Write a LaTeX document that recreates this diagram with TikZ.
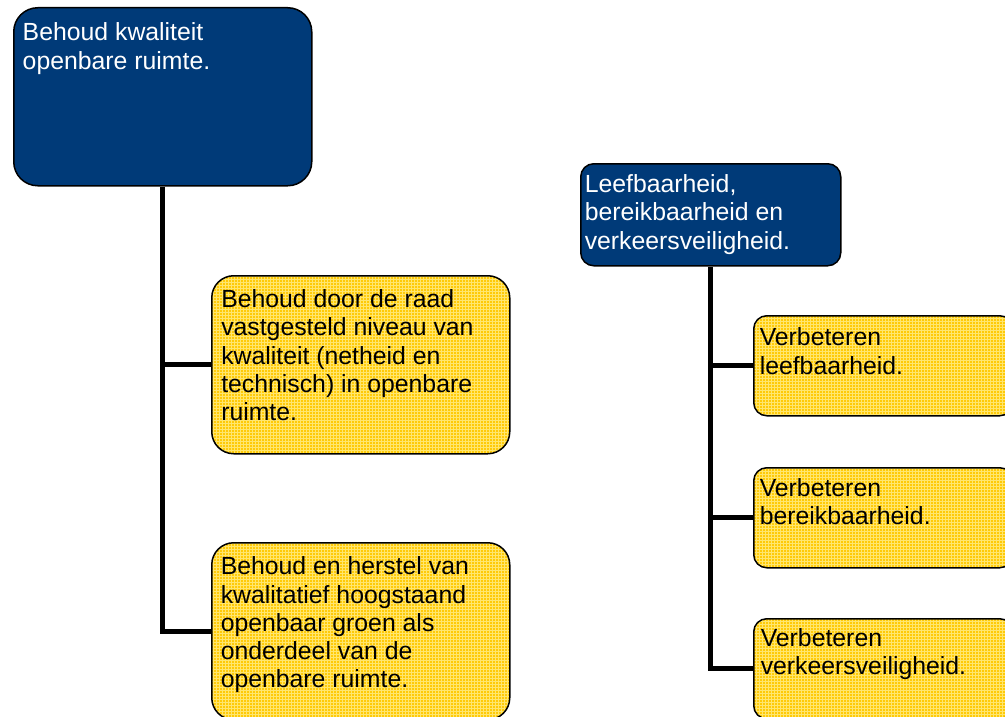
\documentclass[tikz,border=0pt]{standalone}
\usepackage{fontspec}
\setmainfont{Liberation Sans}
\usetikzlibrary{patterns}
\definecolor{navy}{RGB}{0,58,120}
\definecolor{gold}{RGB}{255,202,8}
\definecolor{goldlight}{RGB}{255,230,110}
\newcommand\bxc[5]{\hspace*{#1pt}\parbox[t][#2pt][t]{#3pt}{\vspace*{#4pt}\rule{0pt}{18.5pt}#5}}
\tikzset{
  boxbase/.style={draw=black, line width=1.5pt, inner sep=0pt, anchor=north west,
    font=\fontsize{24.8}{28.3}\selectfont},
  bluebox/.style={boxbase, fill=navy, text=white},
  ybox/.style={boxbase, preaction={fill=gold}, pattern=grid, pattern color=goldlight, text=black},
  conn/.style={line width=5pt, black, line join=miter}
}
\begin{document}
\begin{tikzpicture}[x=1pt,y=-1pt]
\useasboundingbox (0,0) rectangle (1005,717);
\clip (0,0) rectangle (1005,717);
% left tree
\node[bluebox, rounded corners=24pt] (A) at (13,7)
  {\bxc{9}{178}{289}{14.5}{Behoud kwaliteit\\openbare ruimte.}};
\node[ybox, rounded corners=22pt] (B) at (211,275)
  {\bxc{9.5}{178}{288.5}{13.2}{Behoud door de raad\\vastgesteld niveau van\\kwaliteit (netheid en\\technisch) in openbare\\ruimte.}};
\node[ybox, rounded corners=22pt] (C) at (211,542)
  {\bxc{9}{177}{289}{13.5}{Behoud en herstel van\\kwalitatief hoogstaand\\openbaar groen als\\onderdeel van de\\openbare ruimte.}};
% right tree
\node[bluebox, rounded corners=13pt] (D) at (580,163)
  {\bxc{4}{102}{256}{10.2}{Leefbaarheid,\\bereikbaarheid en\\verkeersveiligheid.}};
\node[ybox, rounded corners=13pt] (E) at (753,315)
  {\bxc{6}{100}{253}{11.5}{Verbeteren\\leefbaarheid.}};
\node[ybox, rounded corners=13pt] (F) at (753,467)
  {\bxc{6}{100}{253}{10.2}{Verbeteren\\bereikbaarheid.}};
\node[ybox, rounded corners=13pt] (G) at (753,618)
  {\bxc{7}{100}{252}{9.2}{Verbeteren\\verkeersveiligheid.}};
% connectors
\draw[conn] (A.south) |- (C.west);
\draw[conn] (A.south |- B.west) -- (B.west);
\draw[conn] (D.south) |- (G.west);
\draw[conn] (D.south |- E.west) -- (E.west);
\draw[conn] (D.south |- F.west) -- (F.west);
\end{tikzpicture}
\end{document}
